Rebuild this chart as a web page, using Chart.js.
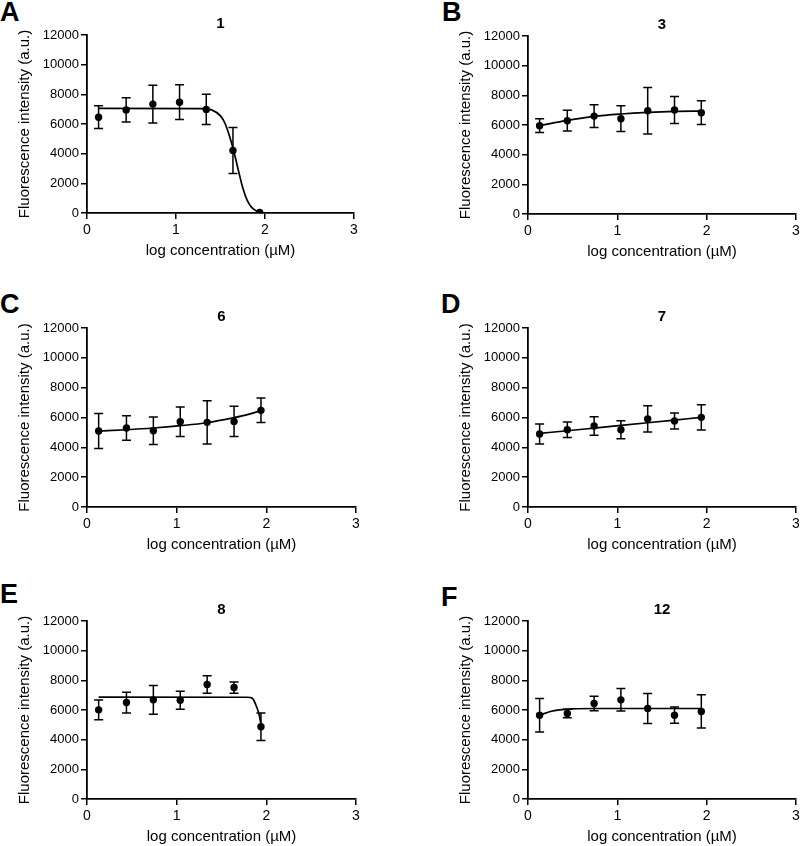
<!DOCTYPE html>
<html>
<head>
<meta charset="utf-8">
<script src="https://cdn.jsdelivr.net/npm/chart.js@4"></script>
<style>
  html, body { margin: 0; padding: 0; background: #fff; }
  body { position: relative; width: 800px; height: 846px; overflow: hidden; }
  canvas { position: absolute; }
  .tag { position: absolute; font: bold 27px "Liberation Sans", Arial, sans-serif; line-height: 1; color: #000; }
</style>
</head>
<body>
<div class="tag" style="left:0;top:-1px">A</div>
<div class="tag" style="left:442px;top:-1px">B</div>
<div class="tag" style="left:0;top:291px">C</div>
<div class="tag" style="left:441px;top:291px">D</div>
<div class="tag" style="left:0;top:581px">E</div>
<div class="tag" style="left:441px;top:584px">F</div>

<canvas id="pA"></canvas>
<canvas id="pB"></canvas>
<canvas id="pC"></canvas>
<canvas id="pD"></canvas>
<canvas id="pE"></canvas>
<canvas id="pF"></canvas>

<script>
// log concentrations tested (same for all compounds)
const doses = [0.13, 0.44, 0.74, 1.04, 1.34, 1.64, 1.94];
const yTicks = [0, 2000, 4000, 6000, 8000, 10000, 12000];
const xTicks = [0, 1, 2, 3];

// compound 1
const meanA = [6460, 6950, 7340, 7470, 6980, 4220, 40];
const errA = [770, 820, 1270, 1170, 1020, 1550, 0];
const fitXA = [0.13, 1.3, 1.4, 1.5, 1.55, 1.6, 1.65, 1.7, 1.75, 1.8, 1.85, 1.9, 1.95];
const fitYA = [7050, 7040, 6950, 6550, 6050, 5200, 4150, 2900, 1700, 850, 380, 150, 50];

// compound 3
const meanB = [5955, 6290, 6600, 6425, 6960, 7010, 6830];
const errB = [460, 700, 770, 870, 1560, 910, 800];
const fitXB = [0.13, 0.44, 0.74, 1.04, 1.34, 1.64, 1.94];
const fitYB = [5955, 6310, 6580, 6740, 6850, 6920, 6940];

// compound 6
const meanC = [5090, 5295, 5115, 5720, 5675, 5740, 6480];
const errC = [1170, 815, 920, 990, 1450, 1010, 820];
const fitXC = [0.13, 0.44, 0.74, 1.04, 1.34, 1.64, 1.8, 1.94];
const fitYC = [5090, 5180, 5295, 5450, 5650, 5990, 6210, 6460];

// compound 7
const meanD = [4890, 5180, 5430, 5180, 5900, 5765, 6010];
const errD = [670, 520, 620, 600, 880, 540, 850];
const fitXD = [0.13, 0.44, 0.74, 1.04, 1.34, 1.64, 1.94];
const fitYD = [4935, 5110, 5290, 5470, 5650, 5830, 6010];

// compound 8
const meanE = [6010, 6505, 6685, 6660, 7715, 7515, 4870];
const errE = [670, 700, 975, 610, 590, 380, 930];
const fitXE = [0.13, 1.78, 1.82, 1.85, 1.89, 1.92, 1.945];
const fitYE = [6865, 6860, 6840, 6750, 6240, 5680, 4890];

// compound 12
const meanF = [5650, 5765, 6440, 6685, 6100, 5650, 5900];
const errF = [1130, 280, 490, 760, 1010, 550, 1120];
const fitXF = [0.13, 0.25, 0.35, 0.5, 0.74, 1.04, 1.94];
const fitYF = [5650, 5900, 6010, 6080, 6100, 6100, 6100];

const FONT = '"Liberation Sans", Arial, sans-serif';
const INK = '#000';

// error bars with caps, drawn through the chart's own scales
const errorBars = {
    id: 'errorBars',
    afterDatasetsDraw(chart, args, opts) {
        const { ctx, scales: { x, y } } = chart;
        const pts = chart.data.datasets[1].data;
        ctx.save();
        ctx.strokeStyle = INK;
        ctx.lineWidth = 1.5;
        pts.forEach((p, i) => {
            const e = opts.err[i];
            if (!e) return;
            const px = x.getPixelForValue(p.x);
            const top = y.getPixelForValue(p.y + e);
            const bot = y.getPixelForValue(p.y - e);
            ctx.beginPath();
            ctx.moveTo(px, top); ctx.lineTo(px, bot);
            ctx.moveTo(px - 4.5, top); ctx.lineTo(px + 4.5, top);
            ctx.moveTo(px - 4.5, bot); ctx.lineTo(px + 4.5, bot);
            ctx.stroke();
        });
        ctx.restore();
    }
};

// compound number above each plot
const panelTitle = {
    id: 'panelTitle',
    afterDraw(chart, args, opts) {
        const { ctx, chartArea } = chart;
        ctx.save();
        ctx.font = 'bold 15px ' + FONT;
        ctx.fillStyle = INK;
        ctx.textAlign = 'center';
        ctx.textBaseline = 'middle';
        ctx.fillText(opts.text, (chartArea.left + chartArea.right) / 2, chartArea.top - 11);
        ctx.restore();
    }
};

function makePanel(id, title, mean, err, fitX, fitY, box) {
    const canvas = document.getElementById(id);
    canvas.width = box.w; canvas.height = box.h;
    canvas.style.left = box.x + 'px'; canvas.style.top = box.y + 'px';

    new Chart(canvas, {
        type: 'scatter',
        data: {
            datasets: [
                {
                    data: fitX.map((v, i) => ({ x: v, y: fitY[i] })),
                    showLine: true,
                    borderColor: INK,
                    borderWidth: 1.7,
                    pointRadius: 0,
                    cubicInterpolationMode: 'monotone'
                },
                {
                    data: doses.map((v, i) => ({ x: v, y: mean[i] })),
                    showLine: false,
                    pointRadius: 3.7,
                    pointBackgroundColor: INK,
                    pointBorderColor: INK,
                    pointBorderWidth: 0
                }
            ]
        },
        options: {
            responsive: false,
            animation: false,
            devicePixelRatio: 1,
            layout: {
                padding: { left: box.L - 80, right: box.w - box.R, top: box.T, bottom: box.h - box.B - 50 }
            },
            plugins: {
                legend: { display: false },
                tooltip: { enabled: false },
                errorBars: { err: err },
                panelTitle: { text: title }
            },
            scales: {
                x: {
                    type: 'linear',
                    min: 0, max: 3,
                    afterBuildTicks: s => { s.ticks = xTicks.map(v => ({ value: v })); },
                    afterFit: s => { s.height = 50; s.paddingLeft = 0; s.paddingRight = 0; },
                    grid: { drawOnChartArea: false, drawTicks: true, tickLength: 6, color: INK, lineWidth: 1.5 },
                    border: { display: true, color: INK, width: 1.8 },
                    ticks: { color: INK, padding: 3, maxRotation: 0, callback: v => String(v), font: { family: FONT, size: 14 } },
                    title: {
                        display: true, text: 'log concentration (µM)', color: INK,
                        padding: { top: 0, bottom: 3.5 },
                        font: { family: FONT, size: 15 }
                    }
                },
                y: {
                    type: 'linear',
                    min: 0, max: 12000,
                    afterBuildTicks: s => { s.ticks = yTicks.map(v => ({ value: v })); },
                    afterFit: s => { s.width = 80; s.paddingTop = 0; s.paddingBottom = 0; },
                    grid: { drawOnChartArea: false, drawTicks: true, tickLength: 6, color: INK, lineWidth: 1.5 },
                    border: { display: true, color: INK, width: 1.8 },
                    ticks: { color: INK, padding: 2, callback: v => String(v), font: { family: FONT, size: 13 } },
                    title: {
                        display: true, text: 'Fluorescence intensity (a.u.)', color: INK,
                        padding: { top: 9, bottom: 0 },
                        font: { family: FONT, size: 15 }
                    }
                }
            }
        },
        plugins: [errorBars, panelTitle]
    });
}

makePanel('pA', '1', meanA, errA, fitXA, fitYA, { x: 0, y: 0, w: 400, h: 280, L: 87, R: 354, T: 35, B: 213 });
makePanel('pB', '3', meanB, errB, fitXB, fitYB, { x: 400, y: 0, w: 400, h: 280, L: 128, R: 397, T: 36, B: 214 });
makePanel('pC', '6', meanC, errC, fitXC, fitYC, { x: 0, y: 280, w: 400, h: 280, L: 87, R: 356, T: 48, B: 227 });
makePanel('pD', '7', meanD, errD, fitXD, fitYD, { x: 400, y: 280, w: 400, h: 280, L: 128, R: 397, T: 48, B: 227 });
makePanel('pE', '8', meanE, errE, fitXE, fitYE, { x: 0, y: 560, w: 400, h: 286, L: 87, R: 356, T: 61, B: 239 });
makePanel('pF', '12', meanF, errF, fitXF, fitYF, { x: 400, y: 560, w: 400, h: 286, L: 128, R: 397, T: 61, B: 239 });
</script>
</body>
</html>
